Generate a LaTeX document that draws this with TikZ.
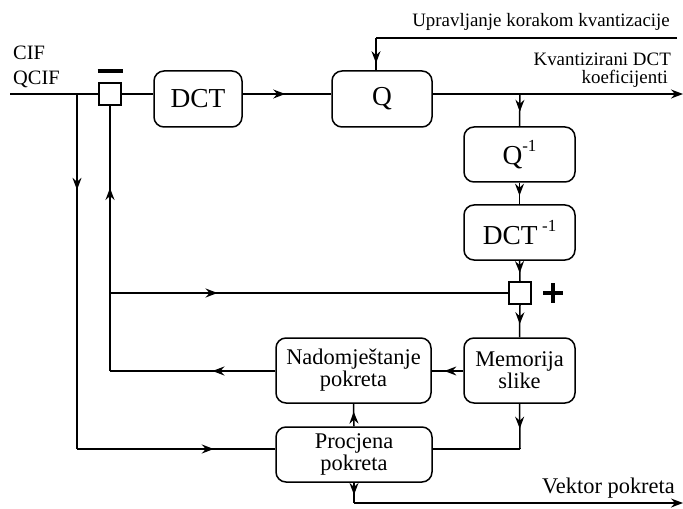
\documentclass[tikz,border=0pt]{standalone}
\usepackage{fontspec}
\setmainfont{Liberation Serif}
\usetikzlibrary{arrows.meta,decorations.markings}
\newcommand{\supm}[1]{\raisebox{0.45em}{\fontsize{17}{17}\selectfont #1}}
\tikzset{
  blk/.style={draw,line width=1.5bp,rounded corners=10bp,inner sep=0pt,align=center},
  bigtxt/.style={font=\fontsize{27.5}{27.5}\selectfont},
  medtxt/.style={font=\fontsize{22.5}{22}\selectfont},
  lbl/.style={font=\fontsize{19}{20}\selectfont,inner sep=0pt,text height=0.7em,text depth=0.22em},
  sumsq/.style={draw,line width=1.5bp,minimum size=22bp,inner sep=0pt},
  wire/.style={line width=1.5bp},
  marr/.style={postaction={decorate},decoration={markings,mark=at position #1 with {\arrow{Stealth[length=12bp,width=9bp,inset=4bp]}}}},
  endarr/.style={-{Stealth[length=12bp,width=9bp,inset=4bp]}},
}
\begin{document}
\begin{tikzpicture}[x=1bp,y=-1bp]
\useasboundingbox (0,0) rectangle (683,509);
% blocks
\node[sumsq] (sq1) at (110,94) {};
\node[blk,bigtxt,minimum width=88bp,minimum height=56bp] (dct) at (198,99) {DCT};
\node[blk,bigtxt,minimum width=100bp,minimum height=56bp] (q) at (382,99) {Q};
\node[blk,bigtxt,minimum width=111bp,minimum height=55bp] (qinv) at (519.5,154.5) {Q\supm{-1}};
\node[blk,bigtxt,minimum width=111bp,minimum height=55bp] (dctinv) at (519.5,232.5) {DCT\,\supm{-1}};
\node[sumsq] (sq2) at (520,293) {};
\node[blk,medtxt,minimum width=111bp,minimum height=65bp] (mem) at (519.5,370.5) {Memorija\\slike};
\node[blk,medtxt,minimum width=155bp,minimum height=65bp] (nad) at (353.5,370.5) {Nadomještanje\\pokreta};
\node[blk,medtxt,minimum width=156bp,minimum height=55bp] (proc) at (354,454.5) {Procjena\\pokreta};
% signs
\node[inner sep=0pt] (minus) at (110,71) {\rule{25bp}{3.5bp}};
\node[inner sep=0pt,minimum size=20bp,path picture={
  \draw[line width=3.5bp] (path picture bounding box.west) -- (path picture bounding box.east);
  \draw[line width=3.5bp] (path picture bounding box.north) -- (path picture bounding box.south);}] (plus) at (553,293) {};
% labels
\node[lbl,anchor=base west,font=\fontsize{20.5}{21}\selectfont] (cif) at (13,60) {CIF};
\node[lbl,anchor=base west,font=\fontsize{20.5}{21}\selectfont] (qcif) at (13,85) {QCIF};
\node[lbl,anchor=base east] (upr) at (670,27) {Upravljanje korakom kvantizacije};
\node[lbl,anchor=base east] (kv1) at (671,66) {Kvantizirani DCT};
\node[lbl,anchor=base east] (kv2) at (668,84) {koeficijenti};
\node[lbl,anchor=base east,font=\fontsize{22.5}{22}\selectfont] (vek) at (675,493) {Vektor pokreta};
% coordinates
\coordinate (in) at (10,94);
\coordinate (j1) at (77,94);
\coordinate (j1b) at (77,449);
\coordinate (j2) at (110,293);
\coordinate (j3) at (110,371);
\coordinate (qout) at (683,94);
\coordinate (br) at (520,94);
\coordinate (c1) at (677,38);
\coordinate (c2) at (376,38);
\coordinate (j4) at (520,449);
\coordinate (v1) at (354,503);
\coordinate (vout) at (683,503);
% wires
\draw[wire] (in) -- (sq1.west);
\draw[wire] (sq1.east) -- (dct.west |- sq1.east);
\draw[wire,marr=0.48] (dct.east |- sq1.east) -- (q.west |- sq1.east);
\draw[wire,endarr] (q.east |- sq1.east) -- (qout);
\draw[wire,marr=0.55] (br) -- (qinv.north);
\draw[wire] (c1) -- (c2);
\draw[wire,marr=0.78] (c2) -- (c2 |- q.north);
\draw[wire,marr=0.6] (qinv.south) -- (dctinv.north);
\draw[wire,marr=0.6] (dctinv.south) -- (sq2.north);
\draw[wire,marr=0.6] (sq2.south) -- (mem.north);
\draw[wire,marr=0.6] (mem.west |- j3) -- (nad.east |- j3);
\draw[wire,marr=0.38] (nad.west |- j3) -- (j3);
\draw[wire,marr=0.69] (j3) -- (sq1.south);
\draw[wire,marr=0.27] (j2) -- (sq2.west);
\draw[wire,marr=0.27] (j1) -- (j1b);
\draw[wire,marr=0.69] (j1b) -- (proc.west |- j1b);
\draw[wire,marr=0.55] (mem.south) -- (j4);
\draw[wire] (j4) -- (proc.east |- j4);
\draw[wire,marr=0.65] (proc.north) -- (nad.south);
\draw[wire,marr=0.6] (proc.south) -- (v1);
\draw[wire,endarr] (v1) -- (vout);
\end{tikzpicture}
\end{document}
